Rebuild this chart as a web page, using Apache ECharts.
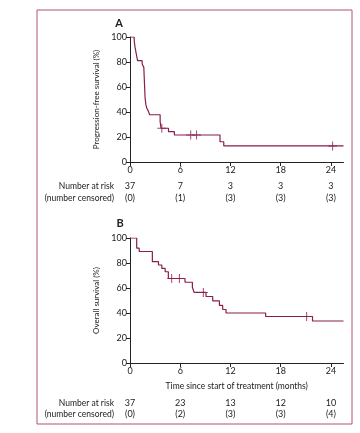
<!DOCTYPE html>
<html><head><meta charset="utf-8">
<script src="https://cdn.jsdelivr.net/npm/echarts@6/dist/echarts.min.js"></script>
<style>html,body{margin:0;padding:0;background:#fff}#c{width:360px;height:433px}</style>
</head><body><div id="c"></div>
<script>
// ---- data ----
const xTicks = [0, 6, 12, 18, 24];
const yTicks = [0, 20, 40, 60, 80, 100];
const pfsTime = [0, 0.5, 0.6, 0.75, 0.9, 1.45, 1.65, 1.7, 1.75, 1.8, 1.9, 2.0, 2.2, 2.35, 3.6, 3.7, 4.6, 5.3, 10.75, 11.2, 25.5];
const pfsSurv = [100, 97.3, 91.9, 86.5, 81.1, 78.4, 75.7, 67.6, 59.5, 51.4, 45.9, 43.2, 40.5, 37.8, 32.4, 27.0, 24.3, 21.6, 16.2, 12.9, 12.9];
const pfsCensTime = [3.8, 7.25, 7.95, 24.2];
const pfsCensSurv = [27.0, 21.6, 21.6, 12.9];
const osTime = [0, 0.8, 1.1, 2.67, 3.4, 3.8, 4.2, 4.58, 6.57, 7.45, 7.65, 9.08, 9.88, 10.68, 11.07, 11.47, 16.2, 21.8, 25.5];
const osSurv = [100, 91.9, 89.2, 81.1, 78.4, 75.7, 73.0, 67.6, 64.6, 60.6, 56.5, 53.2, 49.7, 46.1, 42.8, 40.0, 37.2, 33.6, 33.6];
const osCensTime = [4.98, 5.9, 8.76, 21.1];
const osCensSurv = [67.6, 67.6, 56.5, 37.2];
const pfsAtRisk = [37, 7, 3, 3, 3];
const pfsCensored = [0, 1, 3, 3, 3];
const osAtRisk = [37, 23, 13, 12, 10];
const osCensored = [0, 2, 3, 3, 4];
const xMax = 25.5;

// ---- styles ----
const curveColor = '#8a1c4e';
const txt = '#222';
const font = 'Lato';
const plusPath = 'path://M4,0h1v4h4v1h-4v4h-1v-4h-4v-1h4z';

const chart = echarts.init(document.getElementById('c'));
function xAxisCfg(i, name) {
  return {
    type: 'value', gridIndex: i, min: 0, max: xMax,
    axisLine: {lineStyle: {color: txt, width: 1}},
    axisTick: {length: 4, customValues: xTicks, lineStyle: {color: txt}},
    axisLabel: {customValues: xTicks, color: txt, fontSize: 9, fontFamily: font, margin: 4},
    splitLine: {show: false},
    name: name, nameLocation: 'middle', nameGap: 19,
    nameTextStyle: {color: txt, fontSize: 8.5, fontFamily: font}
  };
}
function yAxisCfg(i, name) {
  return {
    type: 'value', gridIndex: i, min: 0, max: 100, interval: 20,
    axisLine: {show: true, lineStyle: {color: txt, width: 1}},
    axisTick: {show: true, length: 4, lineStyle: {color: txt}},
    axisLabel: {color: txt, fontSize: 9, fontFamily: font, margin: 3},
    splitLine: {show: false},
    name: name, nameLocation: 'middle', nameGap: 18, nameRotate: 90,
    nameTextStyle: {color: txt, fontSize: 8, fontFamily: font}
  };
}
function zip(a, b) { return a.map((v, i) => [v, b[i]]); }

chart.setOption({
  animation: false,
  backgroundColor: '#fff',
  grid: [
    {left: 130, top: 37, width: 213.5, height: 125},
    {left: 130, top: 238, width: 213.5, height: 125}
  ],
  xAxis: [xAxisCfg(0, ''), xAxisCfg(1, 'Time since start of treatment (months)')],
  yAxis: [yAxisCfg(0, 'Progression-free survival (%)'), yAxisCfg(1, 'Overall survival (%)')],
  series: [
    {type: 'line', xAxisIndex: 0, yAxisIndex: 0, step: 'end', data: zip(pfsTime, pfsSurv),
     showSymbol: false, lineStyle: {color: curveColor, width: 1.2}},
    {type: 'scatter', xAxisIndex: 0, yAxisIndex: 0, data: zip(pfsCensTime, pfsCensSurv),
     symbol: plusPath, symbolSize: 9, itemStyle: {color: curveColor}},
    {type: 'line', xAxisIndex: 1, yAxisIndex: 1, step: 'end', data: zip(osTime, osSurv),
     showSymbol: false, lineStyle: {color: curveColor, width: 1.2}},
    {type: 'scatter', xAxisIndex: 1, yAxisIndex: 1, data: zip(osCensTime, osCensSurv),
     symbol: plusPath, symbolSize: 9, itemStyle: {color: curveColor}}
  ]
});

const g = [];
g.push({type: 'rect', shape: {x: 37, y: 10, width: 315, height: 414},
        style: {fill: 'none', stroke: '#b0507e', lineWidth: 1}, silent: true});
g.push({type: 'text', x: 119, y: 23, style: {text: 'A', fill: txt, font: 'bold 11px ' + font, align: 'center', verticalAlign: 'middle'}});
g.push({type: 'text', x: 120, y: 223, style: {text: 'B', fill: txt, font: 'bold 11px ' + font, align: 'center', verticalAlign: 'middle'}});
function table(axisIdx, y1, y2, risk, cens) {
  g.push({type: 'text', x: 114, y: y1, style: {text: 'Number at risk', fill: txt, font: '8.5px ' + font, align: 'right', verticalAlign: 'middle'}});
  g.push({type: 'text', x: 114, y: y2, style: {text: '(number censored)', fill: txt, font: '8.5px ' + font, align: 'right', verticalAlign: 'middle'}});
  xTicks.forEach((t, i) => {
    const px = chart.convertToPixel({xAxisIndex: axisIdx}, t);
    g.push({type: 'text', x: px, y: y1, style: {text: String(risk[i]), fill: txt, font: '9px ' + font, align: 'center', verticalAlign: 'middle'}});
    g.push({type: 'text', x: px, y: y2, style: {text: '(' + cens[i] + ')', fill: txt, font: '9px ' + font, align: 'center', verticalAlign: 'middle'}});
  });
}
table(0, 186, 198, pfsAtRisk, pfsCensored);
table(1, 403, 414, osAtRisk, osCensored);
chart.setOption({graphic: g});
</script></body></html>
